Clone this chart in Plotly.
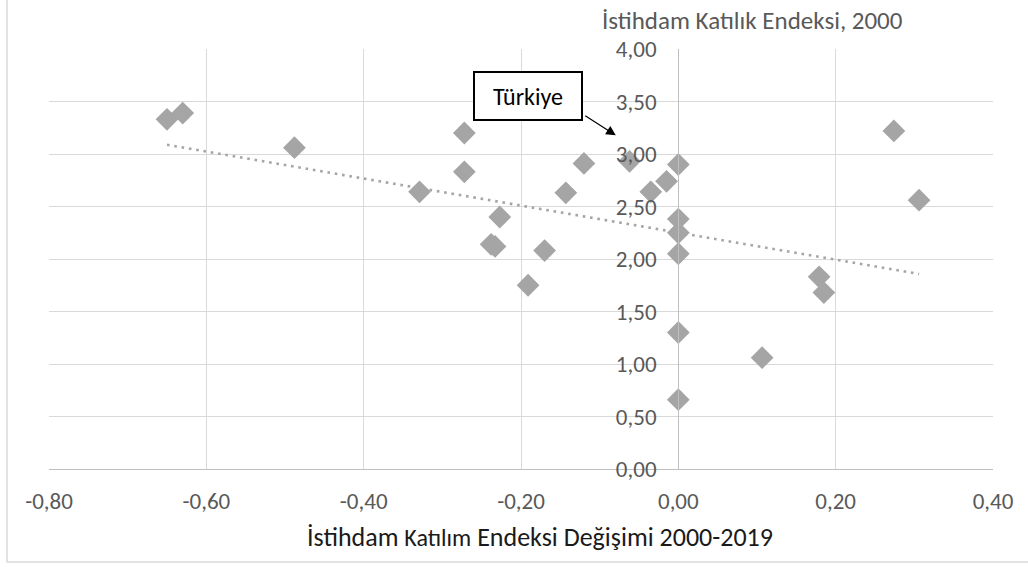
import numpy as np
import plotly.graph_objects as go

# Employment participation index change 2000-2019 (x) vs. employment rigidity index 2000 (y)
change_2000_2019 = [-0.650, -0.630, -0.488, -0.272, -0.272, -0.329, -0.227, -0.238, -0.233,
                    -0.170, -0.191, -0.143, -0.120, -0.062, -0.035, -0.015, 0.000, 0.000,
                    0.000, 0.000, 0.000, 0.000, 0.1065, 0.179, 0.185, 0.274, 0.306]
rigidity_2000 = [3.33, 3.39, 3.06, 3.20, 2.83, 2.64, 2.40, 2.14, 2.12,
                 2.08, 1.75, 2.63, 2.91, 2.93, 2.64, 2.74, 2.90, 2.38,
                 2.25, 2.05, 1.30, 0.66, 1.06, 1.83, 1.68, 3.22, 2.56]

x_ticks = [-0.8, -0.6, -0.4, -0.2, 0.0, 0.2, 0.4]
x_tick_labels = ["-0,80", "-0,60", "-0,40", "-0,20", "0,00", "0,20", "0,40"]
y_ticks = [0.0, 0.5, 1.0, 1.5, 2.0, 2.5, 3.0, 3.5, 4.0]
y_tick_labels = ["0,00", "0,50", "1,00", "1,50", "2,00", "2,50", "3,00", "3,50", "4,00"]

# Türkiye callout: label position and arrow target
turkiye_label_xy = (-0.191, 3.554)
turkiye_point_xy = (-0.0795, 3.178)
turkiye_tail_xy = (-0.1202, 3.373)

FONT = "Carlito, Lato, sans-serif"
GRID = "#D9D9D9"
AXIS = "#BFBFBF"
TEXT = "#595959"

xs = np.array(change_2000_2019)
ys = np.array(rigidity_2000)
slope, intercept = np.polyfit(xs, ys, 1)
trend_x = np.array([xs.min(), xs.max()])
trend_y = intercept + slope * trend_x

fig = go.Figure()

fig.add_trace(go.Scatter(
    x=trend_x, y=trend_y, mode="lines",
    line=dict(color="#A5A5A5", width=2.6, dash="2.6px,4.8px"),
    hoverinfo="skip", showlegend=False,
))

fig.add_trace(go.Scatter(
    x=change_2000_2019, y=rigidity_2000, mode="markers",
    marker=dict(symbol="diamond", size=17.5, color="#A5A5A5", line=dict(width=0)),
    showlegend=False,
))

fig.update_layout(
    width=1028, height=567,
    margin=dict(l=49, r=35, t=49, b=98),
    paper_bgcolor="white", plot_bgcolor="white",
    font=dict(family=FONT, size=23, color=TEXT),
    xaxis=dict(
        range=[-0.8, 0.4], domain=[0, 1],
        tickvals=x_ticks, ticktext=x_tick_labels,
        showgrid=True, gridcolor=GRID, gridwidth=1.3,
        zeroline=False, showline=True, linecolor=AXIS, linewidth=1.3,
        ticks="", ticklabelstandoff=11,
        tickfont=dict(family=FONT, size=23, color=TEXT),
    ),
    yaxis=dict(
        range=[0, 4], anchor="free", position=2 / 3,
        tickvals=y_ticks, ticktext=y_tick_labels,
        showgrid=True, gridcolor=GRID, gridwidth=1.3,
        zeroline=False, showline=True, linecolor=AXIS, linewidth=1.3,
        ticks="", ticklabelstandoff=17,
        tickfont=dict(family=FONT, size=23, color=TEXT),
    ),
)

# Axis titles
fig.add_annotation(
    xref="paper", yref="paper", x=0.745, y=1.067,
    text="İstihdam Katılık Endeksi, 2000", showarrow=False,
    xanchor="center", yanchor="middle",
    font=dict(family=FONT, size=25, color=TEXT),
)
fig.add_annotation(
    xref="paper", yref="paper", x=0.52, y=-0.162,
    text="İstihdam <span style='font-size:24px'>Katılım</span> Endeksi Değişimi 2000-2019",
    showarrow=False, xanchor="center", yanchor="middle",
    font=dict(family=FONT, size=26, color="#1a1a1a"),
)

# Türkiye label box and arrow
fig.add_annotation(
    x=turkiye_label_xy[0], y=turkiye_label_xy[1], xref="x", yref="y",
    text="Türkiye", showarrow=False,
    font=dict(family=FONT, size=24, color="black"),
    bgcolor="white", bordercolor="black", borderwidth=2, borderpad=0,
    width=106, height=46,
)
fig.add_annotation(
    x=turkiye_point_xy[0], y=turkiye_point_xy[1], xref="x", yref="y",
    ax=turkiye_tail_xy[0], ay=turkiye_tail_xy[1], axref="x", ayref="y",
    text="", showarrow=True, arrowhead=2, arrowsize=1.6, arrowwidth=1.2,
    arrowcolor="black", standoff=0,
)

# Chart area frame
fig.add_shape(
    type="rect", xref="paper", yref="paper",
    x0=(7 - 49) / 944, x1=(1035 - 49) / 944,
    y0=(469 - 562) / 420, y1=(469 + 5) / 420,
    line=dict(color=GRID, width=1.5), fillcolor="rgba(0,0,0,0)", layer="below",
)

fig.write_html("out.html")
